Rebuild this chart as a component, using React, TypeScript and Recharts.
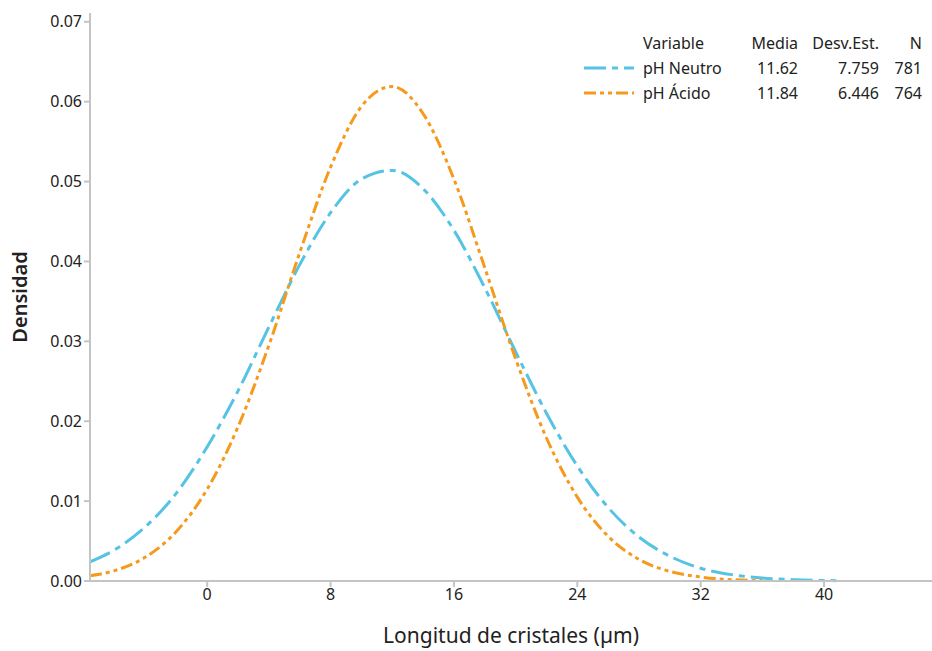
import { LineChart, Line, XAxis, YAxis, Label } from "recharts";

document.body.style.margin = "0";

// valores (densidad estimada)
const longitudes = [-7.6, -6, -4, -2, 0, 2, 4, 6, 8, 10, 12, 14, 16, 18, 20, 22, 24, 26, 28, 30, 32, 34, 36, 38, 40, 40.8];
const phNeutro = [0.0024, 0.0039, 0.0068, 0.011, 0.0168, 0.0238, 0.0318, 0.0396, 0.0461, 0.0503, 0.0514, 0.0491, 0.0439, 0.0367, 0.0287, 0.021, 0.0144, 0.0092, 0.0055, 0.0031, 0.0016, 0.0008, 0.00037, 0.00016, 0.00006, 0.00004];
const phAcido = [0.00066, 0.0013, 0.003, 0.0062, 0.0115, 0.0193, 0.0295, 0.0411, 0.0518, 0.0594, 0.0619, 0.0585, 0.0503, 0.0392, 0.0278, 0.0179, 0.0105, 0.0056, 0.0027, 0.0012, 0.0005, 0.00017, 0.00005, null, null, null];
const xTicks = [0, 8, 16, 24, 32, 40];
const yTicks = [0, 0.01, 0.02, 0.03, 0.04, 0.05, 0.06, 0.07];

const series = [
  { key: "neutro", name: "pH Neutro", color: "#55c3e3", dash: "22 6 6 6", media: "11.62", desv: "7.759", n: "781" },
  { key: "acido", name: "pH Ácido", color: "#f59a1c", dash: "12 4 4 4 4 4", media: "11.84", desv: "6.446", n: "764" },
];

const data = longitudes.map((x, i) => ({ x, neutro: phNeutro[i], acido: phAcido[i] }));

const FONT = "'Noto Sans', sans-serif";
const AXIS = "#c4c4c4";
const TXT = "#222";

// tabla de la leyenda, encima del gráfico
function Tabla() {
  const rows = [{ name: "Variable", media: "Media", desv: "Desv.Est.", n: "N", color: "", dash: "" }, ...series];
  return (
    <div style={{ position: "absolute", left: 0, top: 0, width: 932, height: 120, fontFamily: FONT, fontSize: 16, color: TXT, pointerEvents: "none" }}>
      {rows.map((r, i) => {
        const top = 32 + i * 25;
        const cell = { position: "absolute" as const, top, lineHeight: "22px", whiteSpace: "nowrap" as const };
        return (
          <div key={r.name}>
            {r.color && (
              <svg width={50} height={6} style={{ position: "absolute", left: 584, top: top + 8 }}>
                <line x1={0} y1={3} x2={50} y2={3} stroke={r.color} strokeWidth={3} strokeDasharray={r.dash} />
              </svg>
            )}
            <span style={{ ...cell, left: 643 }}>{r.name}</span>
            <span style={{ ...cell, right: 932 - 798 }}>{r.media}</span>
            <span style={{ ...cell, right: 932 - 879 }}>{r.desv}</span>
            <span style={{ ...cell, right: 932 - 922 }}>{r.n}</span>
          </div>
        );
      })}
    </div>
  );
}

export default function App() {
  return (
    <div style={{ position: "relative", width: 932, height: 651, background: "#fff" }}>
      <LineChart width={932} height={651} data={data} margin={{ top: 13, right: 0, bottom: 0, left: 0 }}>
        <XAxis
          dataKey="x"
          type="number"
          domain={[-7.6, 47]}
          ticks={xTicks}
          allowDataOverflow
          height={70}
          stroke={AXIS}
          strokeWidth={2}
          tickSize={6}
          tick={{ fill: TXT, fontSize: 16, fontFamily: FONT }}
        >
          <Label value="Longitud de cristales (µm)" position="insideBottom" offset={8} style={{ fill: TXT, fontSize: 21, fontFamily: FONT }} />
        </XAxis>
        <XAxis xAxisId="top" orientation="top" dataKey="x" type="number" domain={[-7.6, 47]} tick={false} tickLine={false} height={0} stroke={AXIS} strokeWidth={2} />
        <YAxis
          type="number"
          domain={[0, 0.0711]}
          ticks={yTicks}
          width={90}
          stroke={AXIS}
          strokeWidth={2}
          tickSize={6}
          tickFormatter={(v: number) => v.toFixed(2)}
          tick={{ fill: TXT, fontSize: 16, fontFamily: FONT }}
        >
          <Label value="Densidad" angle={-90} position="insideLeft" offset={20} style={{ fill: TXT, fontSize: 20, fontFamily: FONT, fontWeight: 600, textAnchor: "middle" }} />
        </YAxis>
        {series.map((s) => (
          <Line
            key={s.key}
            dataKey={s.key}
            name={s.name}
            type="monotone"
            stroke={s.color}
            strokeWidth={3}
            strokeDasharray={s.dash}
            dot={false}
            connectNulls={false}
            isAnimationActive={false}
          />
        ))}
      </LineChart>
      <Tabla />
    </div>
  );
}
